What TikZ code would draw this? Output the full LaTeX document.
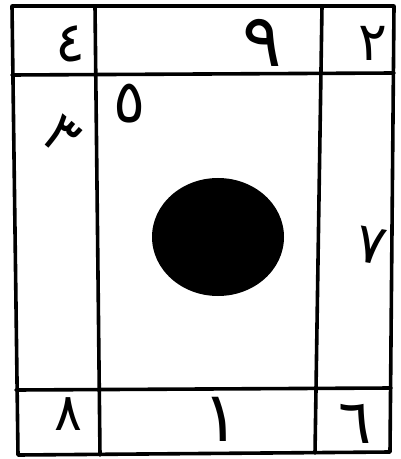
\documentclass[tikz,border=0pt]{standalone}
\usepackage{fontspec}
\usepackage{tikz}
\usetikzlibrary{positioning,calc}
\newfontfamily\arabicfont[Script=Arabic]{DejaVu Sans}
\TeXXeTstate=1
\definecolor{encre}{HTML}{000000}
\tikzset{
  trait/.style={draw=encre, line width=3.6bp, line cap=round, line join=round},
  chiffre/.style={inner sep=0pt, font=\arabicfont\fontsize{#1}{#1}\selectfont, text=encre},
  tache/.style={fill=encre, draw=none},
}
\newcommand{\ar}[1]{\beginR #1\endR}

\begin{document}
\begin{tikzpicture}[x=1bp,y=-1bp]
   \useasboundingbox (0,0) rectangle (400,459);
   % coins du cadre
   \coordinate (hg) at (12,6);   \coordinate (hd) at (394,6);
   \coordinate (bg) at (18,455); \coordinate (bd) at (390,452);
   \draw[trait] (hg)--(hd)--(bd)--(bg)--cycle;
   % lignes internes
   \coordinate (l1g) at (12,75);  \coordinate (l1d) at (394,73);
   \coordinate (l2g) at (16,390); \coordinate (l2d) at (391,388);
   \coordinate (c1h) at (95,6);   \coordinate (c1b) at (100,455);
   \coordinate (c2h) at (322,6);  \coordinate (c2b) at (315,453);
   \draw[trait] (l1g)--(l1d); \draw[trait] (l2g)--(l2d);
   \draw[trait] (c1h)--(c1b); \draw[trait] (c2h)--(c2b);
   % chiffres
   \node[chiffre=56] (quatre) at (70,44) {\ar{٤}};
   \node[chiffre=74] (neuf) at (262,43) {\ar{٩}};
   \node[chiffre=54] (deux) at (373,43) {\ar{٢}};
   \node[chiffre=56, rotate=-40] (trois) at (61,136) {\ar{٣}};
   \node[chiffre=60] (cinq) at (130,104) {\ar{٥}};
   \node[chiffre=56, rotate=-10] (sept) at (371,246) {\ar{٧}};
   \node[chiffre=52] (huit) at (68,414) {\ar{٨}};
   \node[chiffre=70] (un) at (221,419) {\ar{١}};
   \node[chiffre=62] (six) at (355,424) {\ar{٦}};
   % disque central
   \fill[tache] (218,237) ellipse (66 and 59);
\end{tikzpicture}
\end{document}
